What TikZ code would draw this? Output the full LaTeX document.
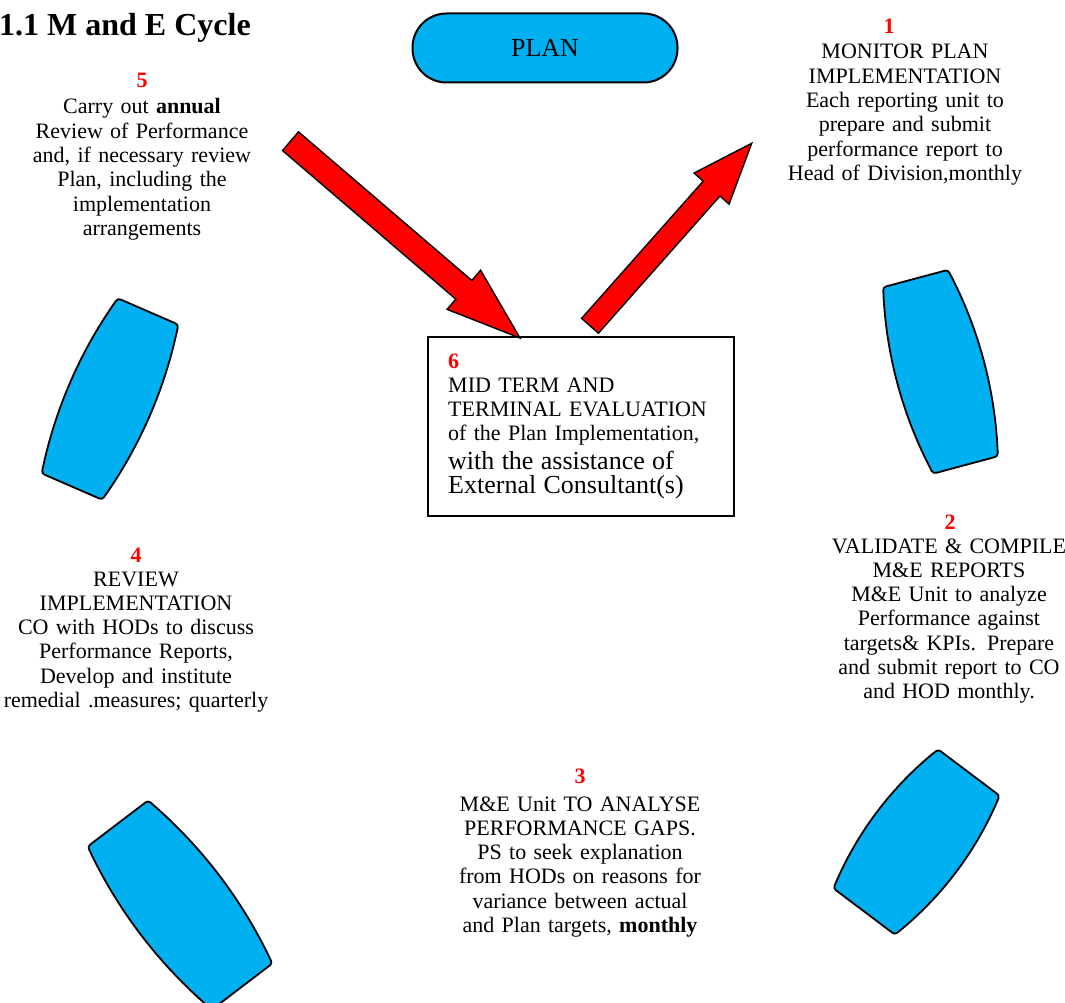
\documentclass[tikz,border=0pt]{standalone}
\usepackage{fontspec}
\setmainfont{Liberation Serif}
\usetikzlibrary{calc}
\definecolor{cycleblue}{RGB}{0,176,240}
\definecolor{cyclered}{RGB}{255,0,0}
\tikzset{
  plan/.style = {draw, fill = cycleblue, line width = 2pt, rounded corners = 34pt, minimum width = 265pt, minimum height = 69pt, inner sep = 0pt, font = \fontsize{26}{29}\selectfont},
  barrelfill/.style = {draw, fill = cycleblue, line width = 1.8pt, rounded corners = 3pt},
  blockarrow/.style = {draw, fill = cyclered, line width = 1.4pt, line join = miter},
  stepno/.style = {inner sep = 0pt, anchor = base, text = cyclered, font = \fontsize{22}{24}\selectfont\bfseries},
  steptext/.style = {text width = 320pt, align = center, inner sep = 0pt, anchor = base, font = \fontsize{22}{24.3}\selectfont},
  evalbox/.style = {draw, line width = 1.5pt, minimum width = 306pt, minimum height = 179pt, inner sep = 0pt, anchor = north west}
}
\newcommand{\barrel}[6]{%
\begin{scope}[shift = {(#1, #2)}, rotate = #3]
\draw[barrelfill] ({-#4/2}, {-#5/2}) .. controls ({-#4/6}, {-#5/2-4*#6/3}) and ({#4/6}, {-#5/2-4*#6/3}) .. ({#4/2}, {-#5/2})--({#4/2}, {#5/2}) .. controls ({#4/6}, {#5/2+4*#6/3}) and ({-#4/6}, {#5/2+4*#6/3}) .. ({-#4/2}, {#5/2})--cycle;
\end{scope}}
\newcommand{\redarrow}[5]{%
\coordinate (hb) at ($(#2)!#5!(#1)$);
\draw[blockarrow] ($(#1)!#3!90:(#2)$)--($(hb)!#3!90:(#2)$)--($(hb)!#4!90:(#2)$)--(#2)--($(hb)!#4!-90:(#2)$)--($(hb)!#3!-90:(#2)$)--($(#1)!#3!-90:(#2)$)--cycle;}
\begin{document}
\begin{tikzpicture}[x = 1pt, y = -1pt]
\useasboundingbox (0, 0) rectangle (1065, 1003);
\node[anchor = base west, inner sep = 0pt, font = \fontsize{32}{36}\selectfont\bfseries] (title) at (-1, 36) {1.1 M and E Cycle};
\node[plan] (plan) at (545, 48) {PLAN};
\barrel{940.5}{371.75}{-75}{193}{67}{11}
\barrel{110}{399}{-113.5}{191}{66}{10}
\barrel{180}{905}{-52.7}{205}{76}{11}
\barrel{916.5}{842}{-127}{174}{77}{11}
\node[evalbox] (box6) at (427, 336) {};
\node[anchor = base west, text width = 290pt, align = left, inner sep = 0pt, font = \fontsize{22}{24}\selectfont] (txt6) at (448, 368) {\textcolor{cyclered}{\textbf{6}}\\MID TERM AND\\TERMINAL EVALUATION\\of the Plan Implementation,\par\fontsize{26}{29.5}\selectfont with the assistance of\\External Consultant(s)};
\coordinate (from5) at (290.5, 141.2);
\coordinate (into6) at ($(box6.north west)+(93, 2)$);
\coordinate (from6) at ($(box6.north west)+(163, -10.2)$);
\coordinate (to1) at (751.7, 143.3);
\redarrow{from5}{into6}{12.3pt}{25.75pt}{74pt}
\redarrow{from6}{to1}{11.2pt}{23.4pt}{60.5pt}
\node[stepno] (no1) at (889, 34) {1};
\node[steptext] (step1) at (905, 59) {MONITOR PLAN\\IMPLEMENTATION\\Each reporting unit to\\prepare and submit\\performance report to\\Head of Division,monthly};
\node[stepno] (no2) at (950, 529) {2};
\node[steptext] (step2) at (949, 553) {VALIDATE \& COMPILE\\M\&E REPORTS\\M\&E Unit to analyze\\Performance against\\targets\& KPIs. Prepare\\and submit report to CO\\and HOD monthly.};
\node[stepno] (no3) at (580, 783) {3};
\node[steptext] (step3) at (580, 811) {M\&E Unit TO ANALYSE\\PERFORMANCE GAPS.\\PS to seek explanation\\from HODs on reasons for\\variance between actual\\and Plan targets, \textbf{monthly}};
\node[stepno] (no4) at (136, 562) {4};
\node[steptext] (step4) at (136, 586) {REVIEW\\IMPLEMENTATION\\CO with HODs to discuss\\Performance Reports,\\Develop and institute\\remedial .measures; quarterly};
\node[stepno] (no5) at (142, 88) {5};
\node[steptext] (step5) at (142, 114) {Carry out \textbf{annual}\\Review of Performance\\and, if necessary review\\Plan, including the\\implementation\\arrangements};
\end{tikzpicture}
\end{document}
